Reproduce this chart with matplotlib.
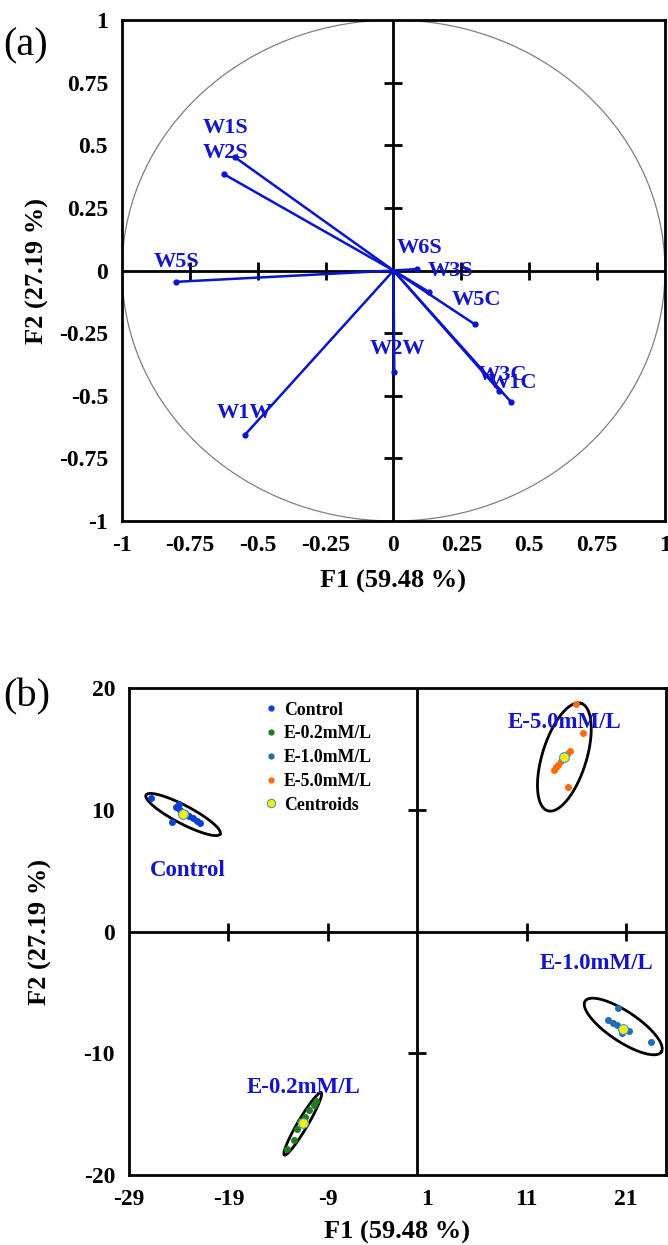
import numpy as np
import matplotlib
matplotlib.use('Agg')
from matplotlib import pyplot as plt
from matplotlib.lines import Line2D

plt.rcParams['font.family'] = ['Liberation Serif', 'DejaVu Serif']
plt.rcParams['font.weight'] = 'bold'
plt.rcParams['axes.unicode_minus'] = False

# ---- panel (a): correlation circle data ----
sensors = ['W1S', 'W2S', 'W5S', 'W1W', 'W2W', 'W6S', 'W3S', 'W5C', 'W3C', 'W1C']
f1_load = [-0.585, -0.625, -0.80, -0.548, 0.003, 0.13, 0.088, 0.30, 0.39, 0.434]
f2_load = [0.453, 0.385, -0.045, -0.657, -0.405, -0.085, 0.006, -0.215, -0.48, -0.526]
lab_x = [-0.702, -0.702, -0.882, -0.651, -0.088, 0.011, 0.125, 0.213, 0.309, 0.346]
lab_y = [0.569, 0.469, 0.034, -0.569, -0.313, 0.09, 0.0, -0.118, -0.417, -0.449]
a_ticks = [-1, -0.75, -0.5, -0.25, 0, 0.25, 0.5, 0.75, 1]
a_ticklabels = ['-1', '-0.75', '-0.5', '-0.25', '0', '0.25', '0.5', '0.75', '1']

# ---- panel (b): observations ----
groups = ['Control', 'E-0.2mM/L', 'E-1.0mM/L', 'E-5.0mM/L']
ctrl_x = [-26.8, -24.0, -24.3, -24.7, -23.9, -23.4, -23.0, -22.6, -22.2, -21.9]
ctrl_y = [11.0, 10.5, 10.2, 9.0, 10.0, 9.7, 9.5, 9.3, 9.1, 8.9]
e02_x = [-13.1, -12.4, -12.1, -11.8, -11.3, -10.9, -10.4, -10.2]
e02_y = [-17.9, -17.1, -16.2, -15.6, -15.2, -14.65, -14.25, -13.9]
e10_x = [20.2, 19.2, 19.7, 20.1, 20.5, 21.0, 21.3, 20.6, 23.45]
e10_y = [-6.3, -7.3, -7.5, -7.7, -7.9, -8.1, -8.2, -8.36, -9.05]
e50_x = [15.96, 16.7, 15.18, 13.7, 13.9, 14.1, 14.4, 14.7, 15.0, 15.3]
e50_y = [18.65, 16.3, 11.9, 13.3, 13.5, 13.7, 14.0, 14.3, 14.6, 14.85]
cent_x = [-23.6, -11.5, 20.67, 14.7]
cent_y = [9.65, -15.75, -8.0, 14.3]
# confidence ellipses: centre, half major axis, half minor axis (data units)
ell_cx = [-23.56, -11.53, 20.7, 14.78]
ell_cy = [9.61, -15.8, -7.8, 14.33]
ell_ux = [3.73, 1.85, 3.83, 1.68]
ell_uy = [-1.60, 2.56, -2.09, 4.41]
ell_vx = [-0.42, 0.43, -0.84, 2.12]
ell_vy = [-0.66, -0.21, -1.02, -0.54]
grp_lab_x = [-23.05, -11.4, 18.0, 14.8]
grp_lab_y = [5.05, -12.8, -2.6, 17.2]
b_xticks = [-29, -19, -9, 1, 11, 21]
b_yticks = [-20, -10, 0, 10, 20]

blue_txt = '#1414c8'
pt_colors = ['#0a3fd6', '#1e7b1e', '#1f6db5', '#ff6a0a']

fig = plt.figure(figsize=(6.68, 12.45), dpi=100)

# ================= panel (a) =================
ax1 = fig.add_axes([0.1826, 0.5815, 0.8129, 0.4024])
t = np.linspace(0, 2 * np.pi, 400)
ax1.plot(np.cos(t), np.sin(t), color='#808080', lw=0.9)
ax1.axhline(0, color='black', lw=2)
ax1.axvline(0, color='black', lw=2)
inner = [v for v in a_ticks if v not in (-1, 0, 1)]
ax1.plot(inner, [0] * len(inner), ls='none', marker='|', ms=13, mew=2, color='black')
ax1.plot([0] * len(inner), inner, ls='none', marker='_', ms=13, mew=2, color='black')
for i in range(len(sensors)):
    ax1.plot([0, f1_load[i]], [0, f2_load[i]], color='#0a14cc', lw=1.8)
    ax1.plot(f1_load[i], f2_load[i], 'o', color='#0a14cc', ms=3.5)
    ax1.text(lab_x[i], lab_y[i], sensors[i], color=blue_txt, fontsize=16,
             fontweight='bold', ha='left', va='center')
ax1.set_xlim(-1, 1)
ax1.set_ylim(-1, 1)
ax1.set_xticks(a_ticks)
ax1.set_xticklabels(a_ticklabels)
ax1.set_yticks(a_ticks)
ax1.set_yticklabels(a_ticklabels)
ax1.tick_params(length=0, labelsize=17, pad=10)
ax1.set_xlabel('F1 (59.48 %)', fontsize=19, fontweight='bold', labelpad=10)
ax1.set_ylabel('F2 (27.19 %)', fontsize=19, fontweight='bold')
ax1.yaxis.set_label_coords(-0.134, 0.5)
for sp in ax1.spines.values():
    sp.set_linewidth(2)
fig.text(0.005, 0.963, '(a)', fontsize=29, fontweight='normal', ha='left', va='center')

# ================= panel (b) =================
ax2 = fig.add_axes([0.1931, 0.0562, 0.8039, 0.3912])
ax2.axhline(0, color='black', lw=2)
ax2.axvline(0, color='black', lw=2)
bx_in = [v for v in b_xticks if v not in (-29, 1)]
by_in = [v for v in b_yticks if v not in (-20, 0, 20)]
ax2.plot(bx_in, [0] * len(bx_in), ls='none', marker='|', ms=13, mew=2, color='black')
ax2.plot([0] * len(by_in), by_in, ls='none', marker='_', ms=13, mew=2, color='black')

for i in range(4):
    ex = ell_cx[i] + ell_ux[i] * np.cos(t) + ell_vx[i] * np.sin(t)
    ey = ell_cy[i] + ell_uy[i] * np.cos(t) + ell_vy[i] * np.sin(t)
    ax2.plot(ex, ey, color='black', lw=2)

series = [(ctrl_x, ctrl_y), (e02_x, e02_y), (e10_x, e10_y), (e50_x, e50_y)]
for (sx, sy), c in zip(series, pt_colors):
    ax2.plot(sx, sy, 'o', color=c, ms=4, ls='none')
ax2.plot(cent_x, cent_y, 'o', color='#ffee00', mec='#3a9bd5', mew=0.8, ms=7, ls='none')

for i in range(4):
    ax2.text(grp_lab_x[i], grp_lab_y[i], groups[i], color=blue_txt, fontsize=16.5,
             fontweight='bold', ha='center', va='center')

handles = [Line2D([], [], ls='none', marker='o', ms=3.5, color=c) for c in pt_colors]
handles.append(Line2D([], [], ls='none', marker='o', ms=6, color='#ffee00',
                      mec='#3a9bd5', mew=0.8))
ax2.legend(handles, groups + ['Centroids'], loc='upper left',
           bbox_to_anchor=(0.255, 0.972), frameon=False,
           handlelength=0.6, handletextpad=0.4, labelspacing=0.38,
           borderpad=0, borderaxespad=0, prop={'weight': 'bold', 'size': 12.8})

ax2.set_xlim(-29, 25)
ax2.set_ylim(-20, 20)
ax2.set_xticks(b_xticks)
ax2.set_yticks(b_yticks)
ax2.tick_params(length=0, labelsize=17, pad=10)
ax2.set_xlabel('F1 (59.48 %)', fontsize=19, fontweight='bold', labelpad=8)
ax2.set_ylabel('F2 (27.19 %)', fontsize=19, fontweight='bold')
ax2.yaxis.set_label_coords(-0.143, 0.5)
for sp in ax2.spines.values():
    sp.set_linewidth(2)
fig.text(0.005, 0.44, '(b)', fontsize=29, fontweight='normal', ha='left', va='center')

fig.savefig('out.png', dpi=100)
